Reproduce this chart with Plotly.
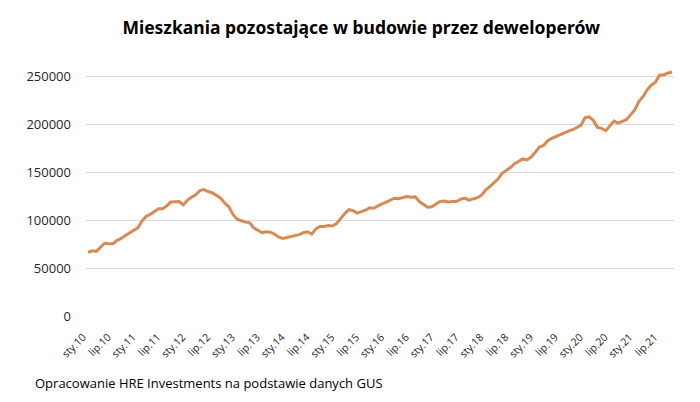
import plotly.graph_objects as go

# Monthly values: Jan 2010 (sty.10) .. Oct 2021
years = list(range(2010, 2022))
values = [
    # 2010
    66600, 68000, 67500, 72000, 76000, 75500, 75500, 79000, 81000, 84000, 86500, 89000,
    # 2011
    92000, 99000, 104000, 106000, 109000, 112000, 112000, 115000, 119000, 119000, 119500, 116000,
    # 2012
    121000, 124000, 126600, 131000, 132000, 130000, 128500, 126000, 123000, 118000, 114000, 106000,
    # 2013
    101000, 99500, 98000, 97500, 92000, 89500, 87000, 88000, 87500, 85500, 82500, 81000,
    # 2014
    82000, 83000, 84500, 85000, 87000, 88000, 85500, 91000, 93500, 93400, 94500, 94000,
    # 2015
    96500, 102000, 107000, 111000, 110000, 107400, 109000, 110500, 113000, 112500, 115000, 117000,
    # 2016
    118500, 120500, 123000, 122500, 124000, 124700, 124000, 124500, 119500, 116500, 113500, 114000,
    # 2017
    116500, 119500, 120000, 119000, 119500, 119500, 122000, 123000, 121000, 122500, 123500, 126000,
    # 2018
    131500, 135000, 139000, 143000, 149000, 152000, 155000, 159000, 161500, 164000, 163000, 166000,
    # 2019
    171000, 176500, 178000, 183000, 185500, 187500, 189500, 191500, 193000, 194500, 197000, 199000,
    # 2020
    207000, 208000, 204500, 197000, 196000, 193500, 198500, 203500, 201500, 203500, 205000, 210000,
    # 2021
    215000, 224000, 229000, 236000, 241000, 244000, 251500, 252000, 253500, 255000,
]
month_abbr = ["sty", "lut", "mar", "kwi", "maj", "cze", "lip", "sie", "wrz", "paź", "lis", "gru"]
categories = [f"{month_abbr[m]}.{str(y)[2:]}" for y in years for m in range(12)][:len(values)]
tick_labels = [c for c in categories if c.startswith("sty") or c.startswith("lip")]
y_ticks = [0, 50000, 100000, 150000, 200000, 250000]

title_text = "Mieszkania pozostające w budowie przez deweloperów"
source_text = "Opracowanie HRE Investments na podstawie danych GUS"

x_idx = list(range(len(values)))
tick_idx = [categories.index(t) for t in tick_labels]

fig = go.Figure()
fig.add_trace(go.Scatter(
    x=x_idx, y=values, mode="lines",
    line=dict(color="#D88A55", width=3),
    hoverinfo="skip",
))

fig.update_layout(
    width=700, height=402,
    margin=dict(l=86, r=26, t=67, b=86),
    paper_bgcolor="white", plot_bgcolor="white",
    showlegend=False,
    font=dict(family="Open Sans", color="#262626"),
    title=dict(
        text=f"<b>{title_text}</b>",
        x=0.516, xanchor="center", xref="container",
        y=1 - 28 / 402, yanchor="middle", yref="container",
        font=dict(family="Noto Sans", size=17.5, color="#000000"),
    ),
    xaxis=dict(
        range=[-0.5, len(values) - 0.5],
        tickmode="array", tickvals=tick_idx, ticktext=tick_labels,
        tickangle=-45, tickfont=dict(size=10.5, color="#262626"),
        showgrid=False, zeroline=False, showline=False,
        ticks="", ticklabelstandoff=12, ticklabelshift=-5,
    ),
    yaxis=dict(
        range=[0, 260000],
        tickmode="array", tickvals=y_ticks, ticktext=[str(v) for v in y_ticks],
        tickfont=dict(size=13, color="#262626"),
        showgrid=True, gridcolor="#D9D9D9", gridwidth=1,
        zeroline=False, showline=False,
        ticklabelstandoff=14,
    ),
    annotations=[dict(
        text=source_text, xref="paper", yref="paper",
        x=(33 - 86) / 588, y=(316 - 383) / 249,
        xanchor="left", yanchor="middle", showarrow=False,
        font=dict(family="Open Sans", size=13, color="#000000"),
    )],
)

fig.write_html("out.html")
